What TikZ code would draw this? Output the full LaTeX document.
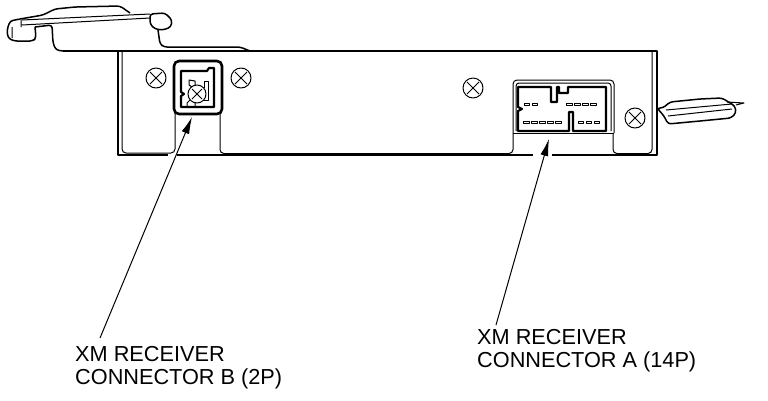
\documentclass[tikz,border=0pt]{standalone}
\usepackage{fontspec}
\setmainfont{Liberation Sans}
\usetikzlibrary{calc}
\usetikzlibrary{arrows.meta}
\def\screwrad{10}
\tikzset{
    thick line/.style={line width=2pt},
    thin line/.style={line width=1pt},
    clip line/.style={line width=1.5pt,rounded corners=3pt},
    pointer/.style={line width=1pt,-{Latex[length=17pt,width=8pt]}},
    partlabel/.style={font=\fontsize{21.7}{22.7}\selectfont,align=left,anchor=north west,inner sep=0pt}
}

\begin{document}
\begin{tikzpicture}[x=1pt,y=-1pt,line join=round]
\useasboundingbox (0,0) rectangle (768,400);

%This is the housing
\draw[thick line] (63,51) -- (657,51) -- (657,155) -- (552,155);
\draw[thick line] (533,155) -- (177,155);
\draw[thick line] (168,155) -- (118,155) -- (118,51);
\draw[thin line,rounded corners=4pt] (652,51) -- (652,153.5) -- (613,153.5) -- (613,133);
\draw[thin line,rounded corners=4pt] (513,133) -- (513,153.5) -- (220,153.5) -- (220,113);
\draw[thin line,rounded corners=4pt] (122,51) -- (122,153) -- (175,153) -- (175,113);

%screws
\foreach \x/\y in {156/78,241/78,473/88,635/118}{
    \draw[thin line] (\x,\y) circle [radius=\screwrad];
    \draw[thin line] (\x-6,\y-6) -- (\x+6,\y+6) (\x-6,\y+6) -- (\x+6,\y-6);
}

%Connector B (2P)
\draw[line width=2.6pt,rounded corners=5pt] (174,61) rectangle (222,114);
\draw[line width=2.2pt] (181,71) -- (207,71) -- (209,68) -- (214,68) -- (214,107) -- (181,107) -- (181,96) -- (184,94) -- (181,92) -- cycle;
\draw[thin line] (197,94) circle [radius=9];
\draw[thin line] (192,89) -- (202,99) (192,99) -- (202,89);
\draw[thin line] (195,85) -- (195,81) -- (189,80) -- (189,85) -- (192,87);
\draw[thin line] (204,88) -- (204,81) -- (208,81) -- (208,100) -- (204,100);
\draw[thin line] (190,100) -- (187,103) -- (187,106) (195,103) -- (195,106);

%Connector A (14P)
\draw[thin line,rounded corners=4pt] (513,133) -- (513,80) -- (614,80) -- (614,133);
\draw[thin line] (513,133) -- (614,133);
\draw[thin line,rounded corners=3pt] (516,131) -- (516,83) -- (611,83) -- (611,131);
\draw[line width=2.2pt] (518,87) -- (551,87) -- (551,102) -- (557,102) -- (557,87) -- (559,87) -- (559,93) -- (568,93) -- (568,87) -- (606,87) -- (606,131) -- (573,131) -- (573,112) -- (569,112) -- (569,131) -- (518,131) -- (518,111) -- (522,109) -- (518,107) -- cycle;
\foreach \x in {524,532}{
    \draw[thin line] (\x,103) rectangle ++(5,2);
}
\foreach \x in {566,574,582,590}{
    \draw[thin line] (\x,103) rectangle ++(6,2);
}
\foreach \x in {523,531,539,547,555}{
    \draw[thin line] (\x,121) rectangle ++(6,2);
}
\foreach \x in {578,586,594}{
    \draw[thin line] (\x,121) rectangle ++(5,2);
}

%clip on the left
\draw[clip line] (35,27) -- (36,38) -- (33,41) -- (14,41) -- (8,38) -- (7,30) -- (10,21) -- (20,19) -- (43,15) -- (55,9) -- (75,7) -- (120,6) -- (130,13);
\draw[clip line] (150,14) -- (165,13) -- (172,20) -- (171,27) -- (163,30) -- (155,29) -- (150,24) -- cycle;
\draw[thin line] (22,20) -- (150,14) (22,25) -- (150,18) (21,20) -- (21,27) (12,27) -- (12,38);
\draw[clip line] (35,27) -- (52,25) -- (53,43) -- (56,50) -- (63,51);
\draw[clip line] (158,30) -- (160,44) -- (164,47) -- (240,47) -- (250,51);

%plug on the right
\draw[clip line] (657,108) -- (663,108) -- (670,102) -- (700,99) -- (722,98) -- (735,106) -- (736,113) -- (731,118) -- (700,121) -- (668,124) -- (664,116) -- cycle;
\draw[thin line] (666,110) -- (732,104) (668,116) -- (732,109);
\draw[thin line] (727,102) -- (744,103) -- (736,105);

%labels
\node[partlabel] (labelb) at (75,346.4) {XM RECEIVER\\CONNECTOR B (2P)};
\node[partlabel] (labela) at (477,329.4) {XM RECEIVER\\CONNECTOR A (14P)};
\coordinate (tailb) at (100,338);
\coordinate (tipb) at (192,117);
\coordinate (taila) at (496,325);
\coordinate (tipa) at (549,139);
\draw[pointer] (tailb) -- (tipb);
\draw[pointer] (taila) -- (tipa);

\end{tikzpicture}
\end{document}
